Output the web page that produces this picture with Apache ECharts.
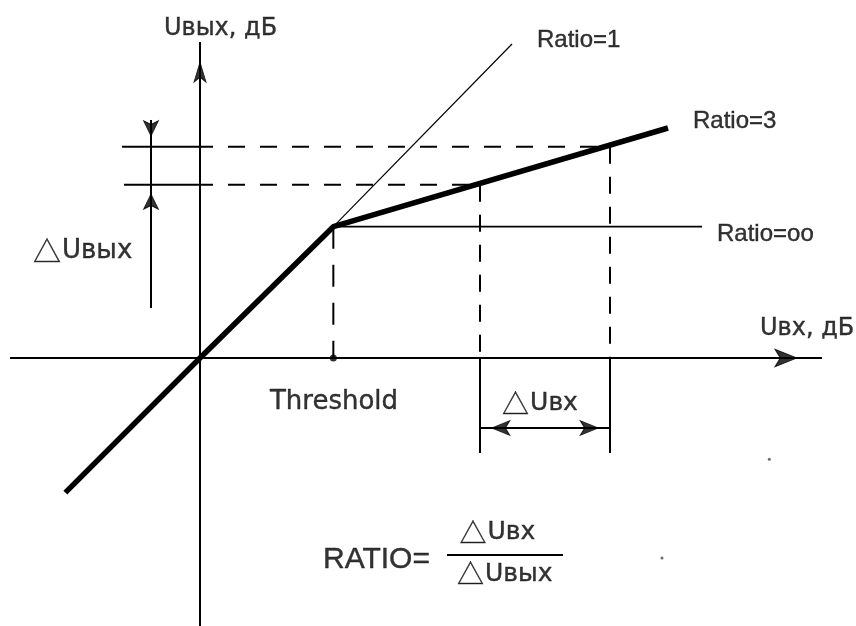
<!DOCTYPE html>
<html><head><meta charset="utf-8">
<script src="https://cdn.jsdelivr.net/npm/echarts@6/dist/echarts.min.js"></script>
<style>html,body{margin:0;padding:0;background:#fff}#c{width:856px;height:626px}</style>
</head><body><div id="c"></div>
<script>
// ---------------- data (diagram units, dB) ----------------
// thick transfer curve: linear part up to the threshold, then Ratio=3
const curveIn  = [-10.1, 0, 10, 35.1];
const curveOut = [-10.1, 0, 9.85, 17.25];
// Ratio=1 continuation
const ratio1In  = [10, 23.4];
const ratio1Out = [9.85, 23.55];
// Ratio=oo (limiter)
const ratioInfIn  = [10, 37.65];
const ratioInfOut = [9.85, 9.85];
// threshold
const thresholdIn = 10;
const thresholdOut = 9.85;
// two input levels and the corresponding output levels on the Ratio=3 line
const levelsIn  = [21, 30.75];
const levelsOut = [13.0, 15.85];
// stray dots in the scan
const strayIn  = [42.7, 34.65];
const strayOut = [-7.6, -15.0];
// texts
const axisTitles  = ['Uвых, дБ', 'Uвх, дБ'];
const ratioLabels = ['Ratio=1', 'Ratio=3', 'Ratio=oo'];
const deltaLabels = ['Uвых', 'Uвх'];      // preceded by a △ glyph
const thresholdLabel = 'Threshold';
const formulaTexts = ['RATIO=', 'Uвх', 'Uвых'];

// ---------------- layout helpers ----------------
const X_MIN = -15, X_MAX = 49.2, Y_MIN = -20.1, Y_MAX = 26.85;
const BLACK = '#000';

function seg(points, width, dash, z) {
  return {
    type: 'line', data: points, symbol: 'none', silent: true, animation: false,
    lineStyle: { color: BLACK, width: width, type: dash || 'solid', cap: 'butt' },
    z: z || 2
  };
}
const zip = (a, b) => a.map((v, i) => [v, b[i]]);

const series = [];
// axes
series.push(seg([[-14.25, 0], [46.65, 0]], 2));
series.push(seg([[0, Y_MIN], [0, 23.7]], 2));
// Ratio=1 thin line
series.push(seg(zip(ratio1In, ratio1Out), 1.2));
// Ratio=oo line
series.push(seg(zip(ratioInfIn, ratioInfOut), 1.8));
// threshold vertical dashed
series.push(seg([[thresholdIn, thresholdOut], [thresholdIn, 0]], 2, [22, 16]));
// dashed horizontal levels
series.push(seg([[2.1, levelsOut[1]], [levelsIn[1], levelsOut[1]]], 2, [17, 15]));
series.push(seg([[2.1, levelsOut[0]], [levelsIn[0], levelsOut[0]]], 2, [17, 15]));
// solid extension lines left of the y-axis
series.push(seg([[-5.85, levelsOut[1]], [0.975, levelsOut[1]]], 2));
series.push(seg([[-5.7, levelsOut[0]], [0.975, levelsOut[0]]], 2));
// dashed verticals down to the axis
series.push(seg([[levelsIn[0], levelsOut[0]], [levelsIn[0], 0]], 2, [17, 13]));
series.push(seg([[levelsIn[1], levelsOut[1]], [levelsIn[1], 0]], 2, [17, 13]));
// solid verticals below the axis
series.push(seg([[levelsIn[0], 0], [levelsIn[0], -7.125]], 2));
series.push(seg([[levelsIn[1], 0], [levelsIn[1], -7.125]], 2));
// ΔUвых dimension line
series.push(seg([[-3.675, 17.85], [-3.675, 3.75]], 2));
// ΔUвх dimension line
series.push(seg([[levelsIn[0], -5.25], [levelsIn[1], -5.25]], 2));
// fraction bar
series.push(seg([[18.525, -14.775], [27.225, -14.775]], 2));
// thick transfer curve
series.push(seg(zip(curveIn, curveOut), 5.5, null, 5));

// arrowheads: tip position + direction
function arrow(x, y, dir, w, h) {
  const rot = { up: 0, right: -90, down: 180, left: 90 }[dir];
  const off = { up: [0, h / 2], right: [-h / 2, 0], down: [0, -h / 2], left: [h / 2, 0] }[dir];
  return { value: [x, y], symbol: 'arrow', symbolSize: [w, h], symbolRotate: rot, symbolOffset: off };
}
series.push({
  type: 'scatter', silent: true, animation: false, z: 6,
  itemStyle: { color: BLACK, borderColor: BLACK, borderWidth: 1 },
  data: [
    arrow(0, 22.95, 'up', 9, 20),
    arrow(45.6, 0, 'right', 13, 22),
    arrow(-3.675, 16.1, 'down', 11, 15),
    arrow(-3.675, 12.85, 'up', 11, 15),
    arrow(21.2, -5.25, 'left', 11, 18),
    arrow(30.55, -5.25, 'right', 11, 18)
  ]
});
// dots
series.push({
  type: 'scatter', silent: true, animation: false, z: 6,
  itemStyle: { color: BLACK },
  data: [{ value: [thresholdIn, 0], symbolSize: 7 }]
    .concat(zip(strayIn, strayOut).map(p => ({ value: p, symbolSize: 3, itemStyle: { color: '#444' } })))
});

// labels
const SANS = 'Liberation Sans, Arial, sans-serif';
const DEJA = 'DejaVu Sans, sans-serif';
const TRI  = 'Noto Sans CJK SC, DejaVu Sans, sans-serif';
function lab(text, x, y, align, font, size, tri) {
  const label = {
    show: true, position: 'inside', align: align, verticalAlign: 'middle',
    color: BLACK, fontFamily: font, fontSize: size,
    textBorderColor: BLACK, textBorderWidth: 0.4
  };
  if (tri) {
    label.formatter = '{t|△}{u|' + text + '}';
    label.rich = {
      t: { fontFamily: TRI, fontSize: size + 2, color: BLACK, textBorderColor: BLACK, textBorderWidth: 0.3, padding: [0, 1, 0, 0] },
      u: { fontFamily: font, fontSize: size, color: BLACK, textBorderColor: BLACK, textBorderWidth: 0.4 }
    };
  } else {
    label.formatter = text;
  }
  return { value: [x, y], name: text, label: label };
}
series.push({
  type: 'scatter', silent: true, animation: false, z: 7,
  symbolSize: 1, itemStyle: { color: 'rgba(0,0,0,0)' },
  data: [
    lab(axisTitles[0], 1.54, 24.7, 'center', DEJA, 24),
    lab(axisTitles[1], 42.0, 2.2, 'left', DEJA, 24),
    lab(ratioLabels[0], 25.275, 23.85, 'left', SANS, 24),
    lab(ratioLabels[1], 36.975, 17.775, 'left', SANS, 24),
    lab(ratioLabels[2], 38.775, 9.3, 'left', SANS, 24),
    lab(deltaLabels[0], -12.525, 8.0, 'left', DEJA, 26, true),
    lab(thresholdLabel, 10.05, -3.3, 'center', DEJA, 26),
    lab(deltaLabels[1], 25.5, -3.4, 'center', DEJA, 25, true),
    lab(formulaTexts[0], 9.225, -15.15, 'left', SANS, 30),
    lab(formulaTexts[1], 22.3, -13.1, 'center', DEJA, 25, true),
    lab(formulaTexts[2], 22.85, -16.2, 'center', DEJA, 25, true)
  ]
});

const chart = echarts.init(document.getElementById('c'), null, { renderer: 'canvas' });
chart.setOption({
  backgroundColor: '#fff',
  animation: false,
  grid: { left: 0, right: 0, top: 0, bottom: 0 },
  xAxis: { type: 'value', min: X_MIN, max: X_MAX, show: false },
  yAxis: { type: 'value', min: Y_MIN, max: Y_MAX, show: false },
  series: series
});
</script>
</body></html>
